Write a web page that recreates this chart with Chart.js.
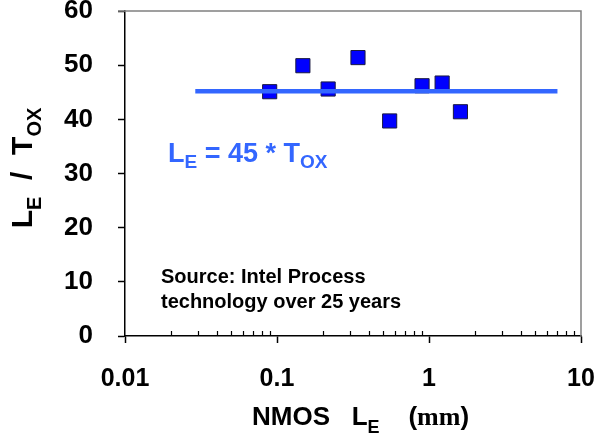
<!DOCTYPE html>
<html>
<head>
<meta charset="utf-8">
<script src="https://cdn.jsdelivr.net/npm/chart.js@4"></script>
<style>
  body { margin: 0; background: #fff; }
  #grafico { display: block; }
</style>
</head>
<body>
<canvas id="grafico" width="595" height="436"></canvas>
<script>
// NMOS L_E (um) contra L_E / T_OX
const comprimentos = [0.0895, 0.148, 0.217, 0.341, 0.551, 0.90, 1.22, 1.61];
const razoes = [45.1, 49.9, 45.6, 51.4, 39.7, 46.2, 46.7, 41.4];

// reta de ajuste L_E = 45 * T_OX
const ajusteX = [0.029, 7];
const ajusteY = [45.2, 45.2];

const xTicks = [0.01, 0.1, 1, 10];
const xTickLabels = ['0.01', '0.1', '1', '10'];
const yTicks = [0, 10, 20, 30, 40, 50, 60];
const yTickLabels = ['0', '10', '20', '30', '40', '50', '60'];

const fonte = 'Liberation Sans, Arial, sans-serif';
const azul = '#3366ff';

// escreve pedacos de texto em sequencia (subscritos com dy)
function escrever(ctx, partes, x, y) {
  let cx = x;
  for (const [t, f, dy] of partes) {
    ctx.font = f;
    ctx.fillText(t, cx, y + (dy || 0));
    cx += ctx.measureText(t).width;
  }
  return cx;
}

function largura(ctx, partes) {
  let w = 0;
  for (const [t, f] of partes) {
    ctx.font = f;
    w += ctx.measureText(t).width;
  }
  return w;
}

const textos = {
  id: 'textos',
  afterDraw(chart) {
    const ctx = chart.ctx;
    const a = chart.chartArea;
    const xs = chart.scales.x;
    ctx.save();

    // moldura de cima e da direita
    ctx.strokeStyle = '#808080';
    ctx.lineWidth = 1.5;
    ctx.beginPath();
    ctx.moveTo(a.left - 7, a.top);
    ctx.lineTo(a.right, a.top);
    ctx.lineTo(a.right, a.bottom);
    ctx.stroke();

    // ticks menores para dentro
    ctx.strokeStyle = '#000';
    ctx.lineWidth = 1.2;
    xs.ticks.forEach(t => {
      if (xTicks.includes(t.value)) return;
      const px = Math.round(xs.getPixelForValue(t.value)) + 0.5;
      ctx.beginPath();
      ctx.moveTo(px, a.bottom);
      ctx.lineTo(px, a.bottom - 5);
      ctx.stroke();
    });

    ctx.textAlign = 'left';
    ctx.textBaseline = 'alphabetic';

    // titulo eixo y
    ctx.fillStyle = '#000';
    const tituloY = [
      ['L', 'bold 30px ' + fonte, 0],
      ['E', 'bold 20px ' + fonte, 9],
      ['  /  ', 'bold 30px ' + fonte, 0],
      ['T', 'bold 30px ' + fonte, 0],
      ['OX', 'bold 20px ' + fonte, 9]
    ];
    ctx.save();
    ctx.translate(32, 168);
    ctx.rotate(-Math.PI / 2);
    escrever(ctx, tituloY, -largura(ctx, tituloY) / 2, 0);
    ctx.restore();

    // titulo eixo x
    escrever(ctx, [
      ['NMOS   L', 'bold 26px ' + fonte, 0],
      ['E', 'bold 18px ' + fonte, 8],
      ['    (', 'bold 26px ' + fonte, 0],
      ['mm', 'bold 26px Liberation Serif, serif', 0],
      [')', 'bold 26px ' + fonte, 0]
    ], 252, 425);

    // equacao
    ctx.fillStyle = azul;
    escrever(ctx, [
      ['L', 'bold 27px ' + fonte, 0],
      ['E', 'bold 19px ' + fonte, 6],
      [' = 45 * T', 'bold 27px ' + fonte, 0],
      ['OX', 'bold 19px ' + fonte, 6]
    ], 168, 162);

    // fonte dos dados
    ctx.fillStyle = '#000';
    ctx.font = 'bold 20px ' + fonte;
    ctx.fillText('Source: Intel Process', 161, 283);
    ctx.fillText('technology over 25 years', 161, 308);

    ctx.restore();
  }
};

const ctx = document.getElementById('grafico');

new Chart(ctx, {
  type: 'scatter',
  data: {
    datasets: [{
      data: ajusteX.map((x, i) => ({ x: x, y: ajusteY[i] })),
      showLine: true,
      borderColor: azul,
      borderWidth: 4.5,
      pointRadius: 0,
      fill: false
    }, {
      data: comprimentos.map((x, i) => ({ x: x, y: razoes[i] })),
      pointStyle: 'rect',
      pointRadius: 10,
      backgroundColor: '#0000ff',
      borderColor: '#1a1a40',
      borderWidth: 1
    }]
  },
  options: {
    responsive: false,
    animation: false,
    layout: { padding: { left: 50, right: 14, top: 10, bottom: 0 } },
    plugins: { legend: { display: false }, tooltip: { enabled: false } },
    scales: {
      x: {
        type: 'logarithmic',
        min: xTicks[0],
        max: xTicks[xTicks.length - 1],
        afterBuildTicks: s => {
          const t = [];
          xTicks.slice(0, -1).forEach(d => {
            for (let k = 1; k < 10; k++) t.push({ value: +(d * k).toPrecision(3) });
          });
          t.push({ value: xTicks[xTicks.length - 1] });
          s.ticks = t;
        },
        afterFit: s => { s.height = 100; s.paddingLeft = 0; s.paddingRight = 0; },
        border: { color: '#000', width: 1.5 },
        grid: {
          drawOnChartArea: false,
          tickLength: 7,
          tickWidth: 1.5,
          tickColor: c => xTicks.includes(c.tick && c.tick.value) ? '#000' : 'rgba(0,0,0,0)'
        },
        ticks: {
          autoSkip: false,
          maxRotation: 0,
          minRotation: 0,
          padding: 21,
          color: '#000',
          font: { family: fonte, size: 25, weight: 'bold' },
          callback: v => {
            const i = xTicks.indexOf(v);
            return i >= 0 ? xTickLabels[i] : '';
          }
        }
      },
      y: {
        min: yTicks[0],
        max: yTicks[yTicks.length - 1],
        afterFit: s => { s.width = 75; s.paddingTop = 0; s.paddingBottom = 0; },
        border: { color: '#000', width: 1.5 },
        grid: { drawOnChartArea: false, tickLength: 7, tickWidth: 1.5, tickColor: '#000' },
        ticks: {
          stepSize: 10,
          padding: 25,
          color: '#000',
          font: { family: fonte, size: 26, weight: 'bold' },
          callback: v => {
            const i = yTicks.indexOf(v);
            return i >= 0 ? yTickLabels[i] : '';
          }
        }
      }
    }
  },
  plugins: [textos]
});
</script>
</body>
</html>
